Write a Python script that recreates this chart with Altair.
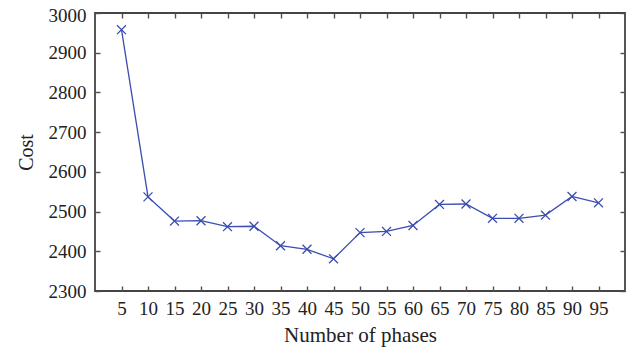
import altair as alt
import pandas as pd

phases = [5, 10, 15, 20, 25, 30, 35, 40, 45, 50, 55, 60, 65, 70, 75, 80, 85, 90, 95]
cost = [2958, 2537, 2476, 2477, 2462, 2463, 2414, 2405, 2381, 2447, 2450, 2465,
        2518, 2519, 2483, 2483, 2491, 2538, 2522]
x_ticks = [5, 10, 15, 20, 25, 30, 35, 40, 45, 50, 55, 60, 65, 70, 75, 80, 85, 90, 95]
y_ticks = [2300, 2400, 2500, 2600, 2700, 2800, 2900, 3000]

df = pd.DataFrame({"phases": phases, "cost": cost})

FONT = "Liberation Serif"
COLOR = "#3a4db0"
AX = "#505050"
TXT = "#222222"

xscale = alt.Scale(domain=[0, 100], nice=False, zero=False)
yscale = alt.Scale(domain=[2300, 3000], nice=False, zero=False)

base = alt.Chart(df)

main = base.mark_line(color=COLOR, strokeWidth=1.3).encode(
    x=alt.X("phases:Q", scale=xscale,
            axis=alt.Axis(values=x_ticks, title="Number of phases", orient="bottom",
                          offset=-5, tickSize=5, tickColor=AX, tickWidth=1.4,
                          domain=False, grid=False, labelPadding=8, format="d",
                          labelFont=FONT, labelFontSize=19, labelColor=TXT,
                          titleFont=FONT, titleFontSize=21, titleFontWeight="normal",
                          titleColor=TXT, titlePadding=6)),
    y=alt.Y("cost:Q", scale=yscale,
            axis=alt.Axis(values=y_ticks, title="Cost", orient="left", format="d",
                          offset=-5, tickSize=5, tickColor=AX, tickWidth=1.4,
                          domain=False, grid=False, labelPadding=9,
                          labelOffset=alt.expr("datum.value == 3000 ? 2 : 0"),
                          labelFont=FONT, labelFontSize=19, labelColor=TXT,
                          titleFont=FONT, titleFontSize=20, titleFontWeight="normal",
                          titleColor=TXT, titlePadding=12)),
)

pts = base.mark_point(shape="M-1,-1L1,1M1,-1L-1,1", size=80, filled=False,
                      color=COLOR, strokeWidth=1.3, opacity=1).encode(
    x=alt.X("phases:Q", scale=xscale, axis=None),
    y=alt.Y("cost:Q", scale=yscale, axis=None),
)

mirror = base.mark_point(opacity=0).encode(
    x=alt.X("phases:Q", scale=xscale,
            axis=alt.Axis(values=x_ticks, orient="top", offset=-5, tickSize=5,
                          tickColor=AX, tickWidth=1.4, labels=False, domain=False,
                          grid=False, title=None)),
    y=alt.Y("cost:Q", scale=yscale,
            axis=alt.Axis(values=y_ticks, orient="right", offset=-5, tickSize=5,
                          tickColor=AX, tickWidth=1.4, labels=False, domain=False,
                          grid=False, title=None)),
)

chart = alt.layer(main, pts, mirror).resolve_axis(x="independent", y="independent").properties(
    width=530, height=278,
    autosize=alt.AutoSizeParams(type="none"),
    padding={"left": 87, "top": 5, "right": 4, "bottom": 56},
).configure_view(stroke="#444444", strokeWidth=1.8)

chart.save("out.html", embed_options={"renderer": "svg", "actions": False})
